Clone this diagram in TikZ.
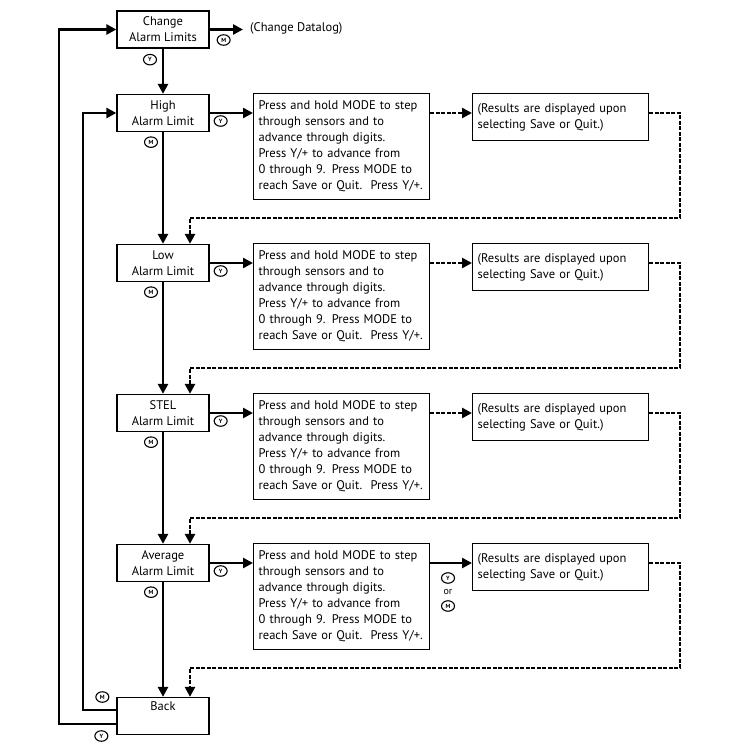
\documentclass[tikz,border=0pt]{standalone}
\usepackage{fontspec}
\setmainfont{PT Sans}
\usetikzlibrary{arrows.meta,shapes.geometric,calc}
\tikzset{%
  every state/.style={
    draw,
    line width=1.3pt,
    minimum width=92pt,
    minimum height=37pt,
    inner sep=2pt,
    align=center,
    font=\fontsize{12.5}{16}\selectfont
  },
  every info/.style={
    draw,
    line width=1.3pt,
    anchor=north west,
    text width=166pt,
    inner sep=5pt,
    minimum height=106pt,
    align=left,
    font=\fontsize{12.5}{16}\selectfont
  },
  every result/.style={
    every info,
    minimum height=47pt
  },
  button/.style={
    ellipse,
    draw,
    line width=1.1pt,
    minimum width=13pt,
    minimum height=10.5pt,
    inner sep=0pt,
    font=\fontsize{6}{6}\selectfont\bfseries
  },
  flow/.style={line width=2.8pt},
  loopback/.style={line width=2.8pt, dash pattern=on 4pt off 1.5pt},
}

\begin{document}
\begin{tikzpicture}[x=1pt, y=-1pt, >={Triangle[length=10pt,width=10pt]}]
        \useasboundingbox (0,0) rectangle (750,750);
        \coordinate (outer) at (59,0);
        \coordinate (inner) at (83,0);
        \coordinate (right) at (680,0);

        \node [every state] (change) at (163,29.5) {Change\\Alarm Limits};
        \node [anchor=west, inner xsep=7pt, inner ysep=2pt, font=\fontsize{12.5}{16}\selectfont]
          (datalog) at (243,28) {(Change Datalog)};
        \draw [flow,->] (change.east) -- (change.east -| datalog.west);
        \node [button] at ($(change.east)+(14,10.5)$) {M};
        \node [button] at ($(change.south)+(-13,11)$) {Y};

        \foreach \t [count=\i] in {High, Low, STEL, Average} {
          \pgfmathsetmacro\y{113+150*(\i-1)}
          \node [every state] (state-\i) at (163,\y) {\t\\Alarm Limit};
          \node [every info] (press-\i) at (253,\y-20)
            {Press and hold MODE to step\\through sensors and to\\advance through digits.\\Press Y/+ to advance from\\0 through 9. Press MODE to\\reach Save or Quit.\ \ Press Y/+.};
          \node [every result] (result-\i) at (472,\y-20)
            {(Results are displayed upon\\selecting Save or Quit.)};
          \coordinate (turn-\i) at (190,\y+105);
          \draw [flow,->] (state-\i.east) -- (state-\i.east -| press-\i.west);
          \node [button] at ($(state-\i.east)+(11,8)$) {Y};
          \node [button] at ($(state-\i.south)+(-12,10)$) {M};
        }

        \node [every state] (back) at (163,716) {Back\\\strut};

        % main line down the left column
        \draw [flow,->] (change) -- (state-1);
        \foreach \i/\j in {1/2,2/3,3/4}
          \draw [flow,->] (state-\i) -- (state-\j);
        \draw [flow,->] (state-4) -- (back);

        % results back to the next limit
        \foreach \i in {1,2,3}
          \draw [loopback,->] (state-\i.east -| press-\i.east) -- (state-\i.east -| result-\i.west);
        \draw [flow,->] (state-4.east -| press-4.east) -- (state-4.east -| result-4.west);
        \foreach \i/\n in {1/state-2,2/state-3,3/state-4,4/back}
          \draw [loopback,->] (state-\i.east -| result-\i.east) -| (turn-\i -| right)
            -- (turn-\i) -- (turn-\i |- \n.north);

        \node [button] (avg-y) at ($(result-4.west |- state-4.east)+(-24,15)$) {Y};
        \node [inner sep=0pt, font=\fontsize{10}{10}\selectfont] (avg-or) at ($(avg-y)+(0,14)$) {or};
        \node [button] (avg-m) at ($(avg-or)+(0,14)$) {M};

        % back to the top
        \draw [flow,->] ([yshift=6pt]back.west) -| (inner |- state-1.west) -- (state-1.west);
        \draw [flow,->] ([yshift=-8pt]back.west) -| (outer |- change.west) -- (change.west);
        \node [button] at ($(back.west)+(-14,-19)$) {M};
        \node [button] at ($(back.west)+(-15,20)$) {Y};
\end{tikzpicture}
\end{document}
